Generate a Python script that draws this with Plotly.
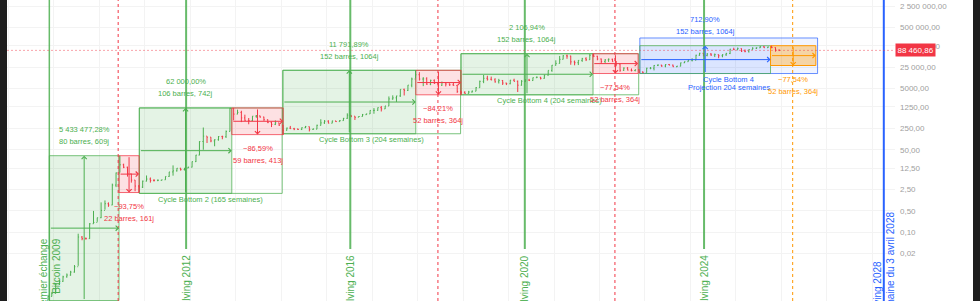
import numpy as np
import pandas as pd
import plotly.graph_objects as go

# ---------------- data (monthly BTC/USD) ----------------
first_month = "2009-11-01"
close = [
    0.0008, 0.0010,
    0.0020, 0.0025, 0.0035, 0.0040, 0.0050, 0.0075, 0.070, 0.062, 0.062, 0.19, 0.21, 0.30,
    0.52, 0.86, 0.78, 3.5, 8.7, 16.1, 13.4, 8.2, 5.1, 3.25, 3.0, 4.7,
    5.5, 4.9, 4.9, 5.0, 5.2, 6.7, 9.4, 10.2, 12.4, 11.2, 12.6, 13.5,
    20.4, 33.4, 93, 139, 129, 97, 106, 135, 133, 198, 1129, 732,
    830, 550, 457, 448, 628, 640, 586, 480, 386, 338, 378, 320,
    217, 254, 244, 236, 230, 263, 284, 230, 236, 314, 377, 430,
    368, 437, 416, 448, 531, 673, 624, 575, 609, 698, 742, 964,
    970, 1190, 1080, 1348, 2286, 2480, 2875, 4703, 4338, 6468, 10233, 14157,
    10221, 10397, 6973, 9240, 7494, 6404, 7780, 7037, 6625, 6318, 4017, 3742,
    3457, 3854, 4105, 5350, 8574, 10817, 10086, 9631, 8294, 9199, 7569, 7193,
    9350, 8599, 6438, 8658, 9462, 9138, 11323, 11681, 10785, 13805, 19626, 28990,
    33114, 45137, 58918, 57750, 37332, 35041, 41626, 47166, 43791, 61318, 57005, 46306,
    38483, 43194, 45538, 37715, 31792, 19785, 23337, 20050, 19432, 20495, 17168, 16548,
    23139, 23147, 28478, 29268, 27220, 30477, 29230, 25940, 26968, 34668, 37713, 42265,
    42582, 61198, 71334, 60637, 67491, 62678, 64619, 58969, 63329, 70215, 96449, 93429,
    102405, 84373, 82549, 94207, 104638, 107135, 115758, 108236, 114056, 109556, 90400, 88460.86,
]
high = [
    0.0009, 0.0011,
    0.0022, 0.0028, 0.0038, 0.0045, 0.0055, 0.0085, 0.090, 0.075, 0.068, 0.20, 0.50, 0.30,
    0.95, 1.1, 0.95, 3.9, 9.0, 31.9, 17.5, 14.0, 8.2, 5.1, 3.5, 4.9,
    7.2, 6.2, 5.5, 5.4, 5.2, 6.7, 9.4, 15.4, 12.5, 12.8, 12.6, 13.8,
    20.6, 33.9, 95, 266, 135, 129, 110, 140, 144, 213, 1163, 1150,
    1022, 940, 700, 545, 630, 680, 650, 600, 490, 415, 455, 380,
    320, 265, 300, 260, 247, 267, 300, 285, 250, 330, 495, 465,
    460, 445, 440, 468, 549, 775, 680, 620, 625, 740, 755, 975,
    1150, 1200, 1350, 1350, 2760, 3000, 2900, 4750, 4980, 6470, 11400, 19800,
    17200, 11800, 11700, 9760, 9990, 7780, 8480, 7760, 7400, 7680, 6580, 4300,
    4100, 4200, 4300, 5600, 9100, 13880, 13130, 12300, 10900, 10370, 9500, 7750,
    9600, 10500, 9200, 9450, 10050, 10400, 11450, 12470, 12050, 14100, 19500, 29300,
    41900, 58300, 61700, 64900, 59500, 41300, 42300, 50500, 52900, 67000, 69000, 59000,
    47900, 45800, 48100, 47400, 39800, 31900, 24600, 25200, 22700, 21000, 21400, 18400,
    23950, 25250, 29200, 31000, 29800, 31400, 31800, 30200, 27500, 35200, 38400, 44700,
    48900, 63900, 73800, 72700, 71900, 71900, 70000, 65000, 66500, 73600, 99600, 108300,
    109500, 102500, 95000, 95800, 111900, 110500, 123200, 124400, 117900, 126200, 111000, 94500,
]
low = [
    0.0006, 0.0008,
    0.0010, 0.0019, 0.0024, 0.0033, 0.0038, 0.0048, 0.008, 0.055, 0.058, 0.061, 0.19, 0.22,
    0.29, 0.55, 0.68, 0.77, 3.0, 9.0, 12.5, 6.6, 4.2, 2.2, 1.99, 2.8,
    4.6, 4.2, 4.6, 4.7, 4.9, 5.2, 6.5, 7.1, 9.7, 10.4, 10.5, 12.5,
    13.2, 19.8, 33, 50, 83, 88, 65, 99, 110, 122, 198, 456,
    720, 400, 440, 340, 430, 555, 560, 440, 370, 275, 320, 300,
    152, 212, 240, 218, 223, 220, 255, 198, 227, 234, 310, 350,
    365, 368, 405, 414, 444, 510, 580, 470, 590, 608, 690, 735,
    750, 940, 890, 1070, 1350, 2150, 1830, 2670, 2970, 4150, 5500, 10800,
    9100, 6000, 6600, 6440, 7040, 5780, 6100, 5880, 6100, 6200, 3600, 3127,
    3380, 3400, 3700, 4100, 5300, 7500, 9100, 9300, 7800, 7300, 6550, 6500,
    6900, 8500, 3850, 6200, 8100, 8900, 9000, 11000, 9900, 10500, 13200, 17600,
    28200, 33000, 45000, 47000, 30000, 28800, 29300, 37400, 39600, 43300, 53300, 42000,
    33000, 34300, 37200, 37600, 26700, 17600, 18800, 19600, 18150, 18200, 15500, 16300,
    16500, 21400, 19600, 27100, 25800, 24800, 28900, 25200, 24900, 26600, 34100, 37600,
    38500, 41900, 59100, 56500, 56600, 58400, 53500, 49000, 52600, 58900, 66800, 90500,
    89200, 78200, 76600, 74500, 93400, 98200, 105300, 107300, 107300, 103500, 80500, 84000,
]
last_price = 88460.86

# vertical event lines
first_exchange_date = "2009-11-25"
first_exchange_label = "Premier échange<br>Bitcoin 2009"
halving_dates = ["2012-11-28", "2016-07-09", "2020-05-11", "2024-04-20"]
halving_labels = ["Halving 2012", "Halving 2016", "Halving 2020", "Halving 2024"]
halving_2028_date = "2028-04-03"
halving_2028_label = "Halving 2028<br>Semaine du 3 avril 2028"
red_dashed_dates = ["2011-06-01", "2018-06-13", "2022-05-05"]
orange_dashed_date = "2026-04-02"

# bull measures (cycle bottom -> cycle top)
bull_start = ["2009-11-25", "2011-11-18", "2015-01-14", "2018-12-15"]
bull_end = ["2011-06-08", "2013-11-30", "2017-12-17", "2021-11-10"]
bull_low = [0.000587, 1.87, 166.4, 3126]
bull_high = [31.91, 1163, 19783, 69000]
bull_pct = ["5 433 477,28%", "62 000,00%", "11 791,89%", "2 106,94%"]
bull_bars = ["80 barres, 609j", "106 barres, 742j", "152 barres, 1064j", "152 barres, 1064j"]

# bear measures (cycle top -> +N bars)
bear_start = ["2011-06-08", "2013-11-30", "2017-12-17", "2021-11-08"]
bear_end = ["2011-11-16", "2015-01-17", "2018-12-16", "2022-11-07"]
bear_high = [31.91, 1163, 19783, 69000]
bear_low = [1.994, 156, 3124, 15497]
bear_pct = ["−93,75%", "−86,59%", "−84,21%", "−77,54%"]
bear_bars = ["22 barres, 161j", "59 barres, 413j", "52 barres, 364j", "52 barres, 364j"]

# cycle-bottom to cycle-bottom rectangles
cycle_start = ["2011-11-18", "2015-01-14", "2018-12-15"]
cycle_end = ["2015-01-09", "2018-12-12", "2022-11-12"]
cycle_low = [1.87, 166.4, 3126]
cycle_high = [1163, 19783, 69000]
cycle_labels = ["Cycle Bottom 2 (165 semaines)", "Cycle Bottom 3 (204 semaines)",
                "Cycle Bottom 4 (204 semaines)"]

# current cycle
cur_start, cur_top_date = "2022-11-21", "2025-10-06"
cur_low, cur_high = 15500, 126000
cur_pct, cur_bars = "712,90%", "152 barres, 1064j"
proj_end, proj_top = "2026-10-19", 225000
proj_label = ["Cycle Bottom 4", "Projection 204 semaines"]
orange_end = "2026-10-05"
orange_low = 28345
orange_pct, orange_bars = "−77,54%", "52 barres, 364j"

# axis
x_range = ["2008-12-20", "2028-07-02"]
y_range_log = [-3.246, 6.594]
y_ticks = [2500000, 500000, 125000, 25000, 5000, 1250, 250, 50, 12.5, 2.5, 0.5, 0.1, 0.02]
halving_line_bottom = 0.0286
first_label_top = 0.075
label_2028_top = 0.536

# ---------------- styling ----------------
FONT = "Liberation Sans, Arial, sans-serif"
GREEN = "#4CAF50"
RED = "#F23645"
BLUE = "#2962FF"
ORANGE = "#FF9800"
G_FILL, G_LINE = "rgba(76,175,80,0.15)", "rgba(76,175,80,0.75)"
R_FILL, R_LINE = "rgba(242,54,69,0.15)", "rgba(242,54,69,0.75)"
LS = 7.5


def fr(v):
    if v >= 10000:
        return f"{v:,.2f}".replace(",", " ").replace(".", ",")
    return f"{v:.2f}".replace(".", ",")


dates = pd.date_range(first_month, periods=len(close), freq="MS") + pd.Timedelta(days=14)
opens = [low[0]] + close[:-1]

fig = go.Figure()
fig.add_trace(go.Ohlc(
    x=dates, open=opens, high=high, low=low, close=close,
    increasing=dict(line=dict(color=GREEN, width=1)),
    decreasing=dict(line=dict(color=RED, width=1)),
    tickwidth=0.25, hoverinfo="skip", showlegend=False,
))

shapes = []
ann = []
L10 = np.log10


def T(d):
    return pd.Timestamp(d)


def mid(a, b):
    a, b = T(a), T(b)
    return a + (b - a) / 2


def gmid(a, b):
    return float(np.sqrt(a * b))


def rect(x0, x1, y0, y1, fill, line, layer="between", width=1):
    shapes.append(dict(type="rect", xref="x", yref="y", x0=x0, x1=x1, y0=y0, y1=y1,
                       fillcolor=fill, line=dict(color=line, width=width), layer=layer))


def arrow(xt, yt, xh, yh, color):
    ann.append(dict(x=xh, y=L10(yh), ax=xt, ay=L10(yt), xref="x", yref="y", axref="x", ayref="y",
                    text="", showarrow=True, arrowhead=4, arrowsize=1, arrowwidth=1,
                    arrowcolor=color, standoff=0, startstandoff=0))


def label(x, yv, text, color, yshift, size=LS):
    ann.append(dict(x=x, y=L10(yv), xref="x", yref="y", text=text, showarrow=False,
                    font=dict(color=color, size=size, family=FONT),
                    xanchor="center", yanchor="middle", yshift=yshift))


# cycle rectangles (outline only)
for s, e, lo, hi, t in zip(cycle_start, cycle_end, cycle_low, cycle_high, cycle_labels):
    rect(s, e, lo, hi, "rgba(0,0,0,0)", G_LINE)
    label(mid(s, e), lo, t, GREEN, -6)

# bull boxes
for s, e, lo, hi, p, b in zip(bull_start, bull_end, bull_low, bull_high, bull_pct, bull_bars):
    rect(s, e, lo, hi, G_FILL, G_LINE)
    m = mid(s, e)
    arrow(m, lo, m, hi, GREEN)
    arrow(T(s), gmid(lo, hi), T(e), gmid(lo, hi), GREEN)
    label(m, hi, b, GREEN, 14)
    label(m, hi, p, GREEN, 26)

# bear boxes
for s, e, lo, hi, p, b in zip(bear_start, bear_end, bear_low, bear_high, bear_pct, bear_bars):
    rect(s, e, lo, hi, R_FILL, R_LINE)
    m = mid(s, e)
    arrow(m, hi, m, lo, RED)
    arrow(T(s), gmid(lo, hi), T(e), gmid(lo, hi), RED)
    label(m, lo, p, RED, -14)
    label(m, lo, b, RED, -26)

# current cycle: projection rectangle, measure and orange bear projection
rect(cur_start, proj_end, cur_low, proj_top, "rgba(41,98,255,0.07)", "rgba(41,98,255,0.7)")
rect(cur_start, cur_top_date, cur_low, cur_high, "rgba(41,98,255,0.10)", G_LINE)
m = mid(cur_start, cur_top_date)
arrow(m, cur_low, m, cur_high, BLUE)
arrow(T(cur_start), gmid(cur_low, cur_high), T(cur_top_date), gmid(cur_low, cur_high), BLUE)
label(m, cur_high, cur_bars, BLUE, 14)
label(m, cur_high, cur_pct, BLUE, 26)
pm = mid(cur_start, proj_end)
label(pm, cur_low, proj_label[0], BLUE, -6)
label(pm, cur_low, proj_label[1], BLUE, -14)

rect(cur_top_date, orange_end, orange_low, cur_high, "rgba(255,152,0,0.35)", ORANGE)
om = mid(cur_top_date, orange_end)
arrow(om, cur_high, om, orange_low, ORANGE)
arrow(T(cur_top_date), gmid(orange_low, cur_high), T(orange_end), gmid(orange_low, cur_high), ORANGE)
label(om, orange_low, orange_pct, ORANGE, -14)
label(om, orange_low, orange_bars, ORANGE, -26)

# vertical lines
top_val = 10 ** y_range_log[1] * 2
for d, t in zip(halving_dates, halving_labels):
    shapes.append(dict(type="line", xref="x", yref="y", x0=d, x1=d, y0=halving_line_bottom, y1=top_val,
                       line=dict(color="rgba(76,175,80,0.85)", width=2), layer="above"))
    ann.append(dict(x=d, y=L10(halving_line_bottom), xref="x", yref="y", text=t, showarrow=False,
                    textangle=-90, xanchor="center", yanchor="top", yshift=-4,
                    font=dict(color=GREEN, size=10, family=FONT)))

shapes.append(dict(type="line", xref="x", yref="paper", x0=first_exchange_date, x1=first_exchange_date,
                   y0=0, y1=1, line=dict(color="rgba(76,175,80,0.85)", width=1.5), layer="above"))
ann.append(dict(x=first_exchange_date, y=L10(first_label_top), xref="x", yref="y", text=first_exchange_label,
                showarrow=False, textangle=-90, xanchor="center", yanchor="top", align="right",
                font=dict(color=GREEN, size=10, family=FONT)))

shapes.append(dict(type="line", xref="x", yref="paper", x0=halving_2028_date, x1=halving_2028_date,
                   y0=0, y1=1, line=dict(color=BLUE, width=2), layer="above"))
ann.append(dict(x=halving_2028_date, y=L10(label_2028_top), xref="x", yref="y", text=halving_2028_label,
                showarrow=False, textangle=-90, xanchor="center", yanchor="top", align="left",
                font=dict(color=BLUE, size=10, family=FONT)))

for d in red_dashed_dates:
    shapes.append(dict(type="line", xref="x", yref="paper", x0=d, x1=d, y0=0, y1=1,
                       line=dict(color=RED, width=1, dash="3px,3px"), layer="above"))
shapes.append(dict(type="line", xref="x", yref="paper", x0=orange_dashed_date, x1=orange_dashed_date,
                   y0=0, y1=1, line=dict(color=ORANGE, width=1, dash="3px,3px"), layer="above"))

# current price line + label
shapes.append(dict(type="line", xref="paper", yref="y", x0=0, x1=1, y0=last_price, y1=last_price,
                   line=dict(color="rgba(242,54,69,0.45)", width=1, dash="2px,2px"), layer="above"))
ann.append(dict(x=1, y=L10(last_price), xref="paper", yref="y", text=fr(last_price), showarrow=False,
                xanchor="left", yanchor="middle", bgcolor=RED, borderpad=1.5, xshift=0,
                font=dict(color="white", size=8, family=FONT)))

# dark window edges
shapes.append(dict(type="rect", xref="paper", yref="paper", x0=-0.05, x1=0, y0=-0.1, y1=1.1,
                   fillcolor="#1e1e1e", line=dict(width=0), layer="above"))
shapes.append(dict(type="rect", xref="paper", yref="paper", x0=966 / 888, x1=1.2, y0=-0.1, y1=1.1,
                   fillcolor="#1e1e1e", line=dict(width=0), layer="above"))

fig.update_layout(
    width=980, height=301,
    margin=dict(l=7, r=85, t=0, b=0),
    paper_bgcolor="white", plot_bgcolor="white",
    showlegend=False,
    shapes=shapes, annotations=ann,
    font=dict(family=FONT),
    xaxis=dict(type="date", range=x_range, rangeslider=dict(visible=False),
               showticklabels=False, ticks="", showgrid=True, gridcolor="#f3f3f3", gridwidth=1,
               dtick="M12", tick0="2009-01-01", zeroline=False, showline=False, fixedrange=True),
    yaxis=dict(type="log", range=y_range_log, side="right",
               tickvals=y_ticks, ticktext=[fr(v) for v in y_ticks],
               tickfont=dict(color="#a0a0a0", size=8, family=FONT),
               ticks="", ticklabelstandoff=4,
               showgrid=True, gridcolor="#f3f3f3", zeroline=False, showline=False, fixedrange=True),
)

fig.write_html("out.html")
